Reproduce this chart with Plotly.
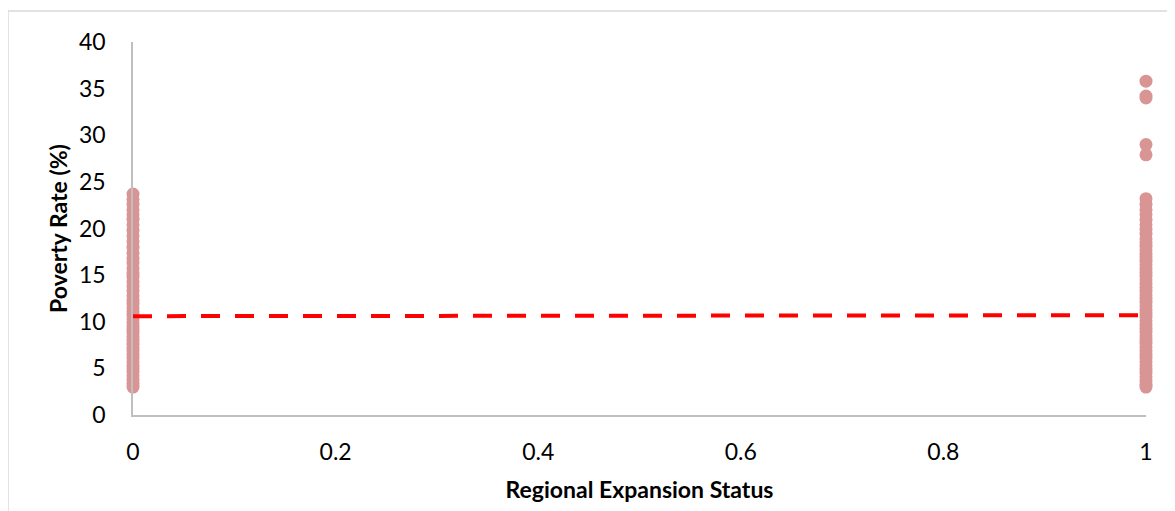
import plotly.graph_objects as go

# Poverty rates (%) by regional expansion status
status0_rates = [3.0, 3.4, 3.8, 4.2, 4.6, 5.0, 5.3, 5.7, 6.1, 6.5, 6.9, 7.2, 7.6, 8.0,
                 8.4, 8.8, 9.1, 9.5, 9.9, 10.3, 10.7, 11.1, 11.5, 11.9, 12.3, 12.8,
                 13.3, 13.8, 14.3, 14.8, 15.2, 15.7, 16.3, 16.8, 17.4, 18.0, 18.6,
                 19.2, 19.8, 20.4, 21.0, 21.5, 22.0, 22.6, 23.1, 23.7]
status1_rates = [3.0, 3.3, 3.7, 4.1, 4.5, 4.9, 5.3, 5.7, 6.1, 6.5, 6.9, 7.3, 7.7, 8.1,
                 8.5, 8.9, 9.3, 9.7, 10.1, 10.5, 10.9, 11.3, 11.7, 12.1, 12.5, 12.9,
                 13.3, 13.7, 14.1, 14.5, 14.9, 15.3, 15.7, 16.1, 16.5, 16.9, 17.3,
                 17.7, 18.1, 18.5, 18.9, 19.4, 19.9, 20.4, 20.9, 21.5, 22.0, 22.6,
                 23.2, 27.9, 29.0, 34.0, 34.2, 35.8]
trend_x = [0, 1]
trend_y = [10.6, 10.7]

x_ticks = [0, 0.2, 0.4, 0.6, 0.8, 1]
x_tick_labels = ["0", "0.2", "0.4", "0.6", "0.8", "1"]
y_ticks = [0, 5, 10, 15, 20, 25, 30, 35, 40]

FONT = "Lato"
FS = 23
pt_color = "#D99594"

fig = go.Figure()
fig.add_trace(go.Scatter(
    x=[0] * len(status0_rates) + [1] * len(status1_rates),
    y=status0_rates + status1_rates,
    mode="markers",
    marker=dict(color=pt_color, size=13, line=dict(width=0)),
    cliponaxis=False,
    showlegend=False,
))
fig.add_trace(go.Scatter(
    x=trend_x, y=trend_y, mode="lines",
    line=dict(color="#FF0000", width=4, dash="19px,15px"),
    cliponaxis=False, showlegend=False,
))

axis_common = dict(
    showgrid=False, zeroline=False, showline=True,
    linecolor="#BFBFBF", linewidth=1.5,
    tickfont=dict(family=FONT, size=FS, color="#000000"),
    ticks="",
)
fig.update_xaxes(
    range=[0, 1], tickvals=x_ticks, ticktext=x_tick_labels,
    ticklabelstandoff=16,
    title=dict(text="<b>Regional Expansion Status</b>",
               font=dict(family=FONT, size=FS, color="#000000"), standoff=18),
    **axis_common,
)
fig.update_yaxes(
    range=[0, 40], tickvals=y_ticks,
    ticklabelstandoff=21,
    title=dict(text="<b>Poverty Rate (%)</b>",
               font=dict(family=FONT, size=FS, color="#000000"), standoff=5),
    **axis_common,
)

# outer chart frame (light gray)
fig.add_shape(type="line", xref="paper", yref="paper",
              x0=-0.1234, x1=-0.1234, y0=-0.3, y1=1.0831,
              line=dict(color="#D9D9D9", width=1.5))
fig.add_shape(type="line", xref="paper", yref="paper",
              x0=-0.1234, x1=1.1, y0=1.0831, y1=1.0831,
              line=dict(color="#D9D9D9", width=1.5))

fig.update_layout(
    width=1175, height=511,
    margin=dict(l=125, r=37, t=34, b=104),
    paper_bgcolor="white", plot_bgcolor="white",
)

fig.write_html("out.html")
